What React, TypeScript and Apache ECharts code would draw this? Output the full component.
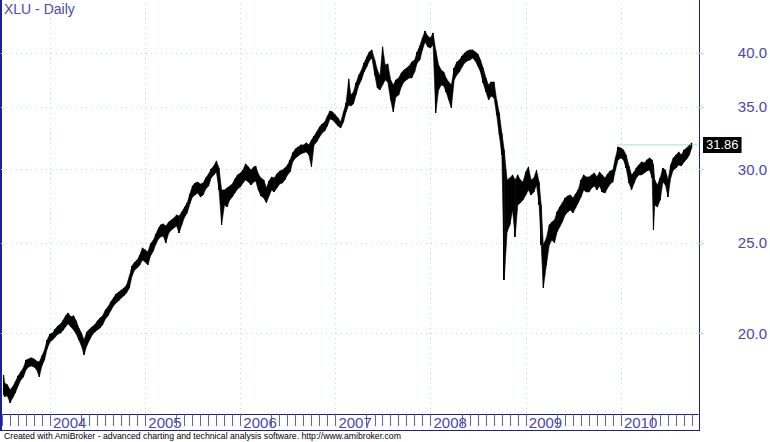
import React, { useEffect, useRef } from "react";
import * as echarts from "echarts";

// Sample dates (roughly every 10 days) of the XLU daily chart
const dates = [
  "2003-07-07", "2003-07-11", "2003-07-21",
  "2003-08-01", "2003-08-11", "2003-08-21",
  "2003-09-01", "2003-09-11", "2003-09-21",
  "2003-10-01", "2003-10-11", "2003-10-21",
  "2003-11-01", "2003-11-11", "2003-11-21",
  "2003-12-01", "2003-12-11", "2003-12-21",
  "2004-01-01", "2004-01-11", "2004-01-21",
  "2004-02-01", "2004-02-11", "2004-02-21",
  "2004-03-01", "2004-03-11", "2004-03-21",
  "2004-04-01", "2004-04-11", "2004-04-21",
  "2004-05-01", "2004-05-11", "2004-05-21",
  "2004-06-01", "2004-06-11", "2004-06-21",
  "2004-07-01", "2004-07-11", "2004-07-21",
  "2004-08-01", "2004-08-11", "2004-08-21",
  "2004-09-01", "2004-09-11", "2004-09-21",
  "2004-10-01", "2004-10-11", "2004-10-21",
  "2004-11-01", "2004-11-11", "2004-11-21",
  "2004-12-01", "2004-12-11", "2004-12-21",
  "2005-01-01", "2005-01-11", "2005-01-21",
  "2005-02-01", "2005-02-11", "2005-02-21",
  "2005-03-01", "2005-03-11", "2005-03-21",
  "2005-04-01", "2005-04-11", "2005-04-21",
  "2005-05-01", "2005-05-11", "2005-05-21",
  "2005-06-01", "2005-06-11", "2005-06-21",
  "2005-07-01", "2005-07-11", "2005-07-21",
  "2005-08-01", "2005-08-11", "2005-08-21",
  "2005-09-01", "2005-09-11", "2005-09-21",
  "2005-10-01", "2005-10-11", "2005-10-21",
  "2005-11-01", "2005-11-11", "2005-11-21",
  "2005-12-01", "2005-12-11", "2005-12-21",
  "2006-01-01", "2006-01-11", "2006-01-21",
  "2006-02-01", "2006-02-11", "2006-02-21",
  "2006-03-01", "2006-03-11", "2006-03-21",
  "2006-04-01", "2006-04-11", "2006-04-21",
  "2006-05-01", "2006-05-11", "2006-05-21",
  "2006-06-01", "2006-06-11", "2006-06-21",
  "2006-07-01", "2006-07-11", "2006-07-21",
  "2006-08-01", "2006-08-11", "2006-08-21",
  "2006-09-01", "2006-09-11", "2006-09-21",
  "2006-10-01", "2006-10-11", "2006-10-21",
  "2006-11-01", "2006-11-11", "2006-11-21",
  "2006-12-01", "2006-12-11", "2006-12-21",
  "2007-01-01", "2007-01-11", "2007-01-21",
  "2007-02-01", "2007-02-11", "2007-02-21",
  "2007-03-01", "2007-03-11", "2007-03-21",
  "2007-04-01", "2007-04-11", "2007-04-21",
  "2007-05-01", "2007-05-11", "2007-05-21",
  "2007-06-01", "2007-06-11", "2007-06-21",
  "2007-07-01", "2007-07-11", "2007-07-21",
  "2007-08-01", "2007-08-11", "2007-08-21",
  "2007-09-01", "2007-09-11", "2007-09-21",
  "2007-10-01", "2007-10-11", "2007-10-21",
  "2007-11-01", "2007-11-11", "2007-11-21",
  "2007-12-01", "2007-12-11", "2007-12-21",
  "2008-01-01", "2008-01-11", "2008-01-21",
  "2008-02-01", "2008-02-11", "2008-02-21",
  "2008-03-01", "2008-03-11", "2008-03-21",
  "2008-04-01", "2008-04-11", "2008-04-21",
  "2008-05-01", "2008-05-11", "2008-05-21",
  "2008-06-01", "2008-06-11", "2008-06-21",
  "2008-07-01", "2008-07-11", "2008-07-21",
  "2008-08-01", "2008-08-11", "2008-08-21",
  "2008-09-01", "2008-09-11", "2008-09-21",
  "2008-10-01", "2008-10-10", "2008-10-21",
  "2008-11-01", "2008-11-11", "2008-11-21",
  "2008-12-01", "2008-12-11", "2008-12-21",
  "2009-01-01", "2009-01-11", "2009-01-21",
  "2009-02-01", "2009-02-11", "2009-02-21",
  "2009-03-01", "2009-03-09", "2009-03-21",
  "2009-04-01", "2009-04-11", "2009-04-21",
  "2009-05-01", "2009-05-11", "2009-05-21",
  "2009-06-01", "2009-06-11", "2009-06-21",
  "2009-07-01", "2009-07-11", "2009-07-21",
  "2009-08-01", "2009-08-11", "2009-08-21",
  "2009-09-01", "2009-09-11", "2009-09-21",
  "2009-10-01", "2009-10-11", "2009-10-21",
  "2009-11-01", "2009-11-11", "2009-11-21",
  "2009-12-01", "2009-12-11", "2009-12-21",
  "2010-01-01", "2010-01-11", "2010-01-21",
  "2010-02-01", "2010-02-11", "2010-02-21",
  "2010-03-01", "2010-03-11", "2010-03-21",
  "2010-04-01", "2010-04-11", "2010-04-21",
  "2010-05-01", "2010-05-06", "2010-05-11", "2010-05-21",
  "2010-06-01", "2010-06-11", "2010-06-21",
  "2010-07-01", "2010-07-11", "2010-07-21",
  "2010-08-01", "2010-08-11", "2010-08-21",
  "2010-09-01", "2010-09-11", "2010-09-21",
  "2010-10-01",
];

const highs = [
  18.03, 17.68, 17.6,
  17.38, 17.51, 17.73,
  17.99, 18.17, 18.35,
  18.71, 18.76, 18.81,
  18.76, 18.66, 18.62,
  18.9, 19.18, 19.66,
  19.95, 20.0, 20.2,
  20.36, 20.46, 20.66,
  20.87, 21.02, 20.82,
  20.87, 20.61, 20.25,
  20.0, 19.66, 20.05,
  20.2, 20.31, 20.41,
  20.61, 20.76, 20.87,
  21.18, 21.34, 21.6,
  21.82, 22.03, 22.14,
  22.25, 22.36, 22.53,
  23.03, 23.61, 23.84,
  23.96, 24.26, 24.69,
  24.57, 24.45, 24.94,
  25.18, 25.56, 25.94,
  26.14, 26.2, 26.07,
  26.33, 26.46, 26.59,
  26.79, 26.72, 26.99,
  27.32, 27.6, 28.22,
  28.78, 28.99, 29.06,
  28.92, 28.99, 29.36,
  29.65, 30.02, 30.24,
  30.62, 30.09, 28.5,
  28.5, 28.64, 28.78,
  28.92, 29.28, 29.58,
  29.72, 29.94, 30.4,
  30.17, 29.94, 30.17,
  30.24, 29.65, 29.36,
  29.21, 28.64, 29.14,
  29.43, 29.36, 29.65,
  29.87, 29.94, 30.09,
  30.32, 30.7, 31.24,
  31.55, 31.7, 31.86,
  31.86, 32.02, 31.86,
  32.25, 32.57, 32.9,
  33.31, 33.55, 33.72,
  34.22, 34.65, 34.57,
  34.31, 34.06, 33.72,
  34.57, 35.35, 37.51,
  36.05, 36.32, 37.14,
  37.88, 38.35, 39.02,
  39.6, 40.1, 40.3,
  39.31, 38.35, 37.79,
  40.61, 38.83, 38.93,
  37.42, 36.95, 37.42,
  37.6, 38.07, 38.35,
  38.54, 38.73, 39.12,
  39.31, 40.1, 40.71,
  41.52, 42.24, 41.72,
  41.52, 42.03, 40.3,
  38.83, 38.35, 38.16,
  37.6, 37.23, 36.95,
  38.54, 39.12, 39.31,
  39.7, 40.0, 40.2,
  40.3, 40.3, 40.1,
  39.9, 39.31, 38.54,
  37.6, 36.95, 37.23,
  37.23, 35.61, 34.48,
  32.81, 31.47, 29.21,
  29.36, 29.58, 29.21,
  29.58, 29.21, 29.06,
  29.8, 30.17, 29.21,
  29.36, 29.94, 29.06,
  27.46, 24.88, 25.31,
  26.14, 26.33, 26.46,
  26.99, 27.32, 27.6,
  27.94, 28.08, 28.15,
  27.94, 28.22, 28.5,
  29.21, 29.58, 29.43,
  29.43, 29.58, 29.72,
  29.43, 29.8, 29.58,
  29.36, 29.65, 29.87,
  29.94, 30.85, 31.7,
  31.62, 31.47, 31.08,
  30.24, 29.58, 29.8,
  30.09, 30.32, 30.55,
  30.47, 30.7, 30.85,
  30.7, 30.32, 29.21, 28.85,
  29.36, 30.09, 29.94,
  29.21, 30.32, 30.85,
  31.08, 31.31, 31.08,
  31.47, 31.62, 31.86,
  32.02,
];

const lows = [
  17.17, 17.09, 17.13,
  16.83, 17.04, 17.25,
  17.56, 17.81, 17.94,
  18.26, 18.39, 18.44,
  18.39, 18.26, 17.94,
  18.44, 18.71, 19.23,
  19.56, 19.66, 19.8,
  19.95, 20.0, 20.15,
  20.31, 20.46, 20.31,
  20.15, 19.95, 19.66,
  19.37, 18.95, 19.37,
  19.66, 19.9, 20.05,
  20.15, 20.25, 20.41,
  20.71, 20.87, 21.13,
  21.39, 21.55, 21.66,
  21.82, 21.93, 22.09,
  22.36, 23.03, 23.38,
  23.5, 23.67, 23.96,
  23.84, 23.67, 24.2,
  24.51, 24.94, 25.25,
  25.37, 25.43, 25.0,
  25.62, 25.81, 25.94,
  26.07, 25.62, 26.14,
  26.66, 26.92, 27.53,
  28.01, 28.15, 28.29,
  28.01, 28.15, 28.57,
  28.78, 29.36, 29.58,
  29.8, 28.5, 26.14,
  27.46, 27.32, 27.8,
  28.01, 28.29, 28.57,
  28.71, 28.99, 29.21,
  29.06, 28.85, 29.06,
  29.14, 28.5, 28.08,
  27.94, 27.6, 28.08,
  28.5, 28.36, 28.64,
  28.92, 28.99, 29.21,
  29.58, 29.8, 30.55,
  30.85, 31.0, 31.16,
  31.24, 31.31, 31.08,
  30.17, 31.86, 32.09,
  32.49, 32.81, 32.98,
  33.39, 33.97, 33.89,
  33.64, 33.39, 33.22,
  33.72, 34.57, 35.17,
  35.09, 35.26, 36.05,
  36.95, 37.42, 38.16,
  38.64, 39.21, 39.5,
  37.88, 36.68, 36.5,
  36.95, 37.42, 37.23,
  35.61, 34.57, 35.87,
  36.05, 36.77, 37.23,
  37.42, 37.6, 37.6,
  38.16, 39.02, 39.31,
  40.3, 41.11, 40.61,
  40.5, 40.81, 34.48,
  36.5, 36.95, 36.86,
  36.32, 35.61, 34.91,
  37.42, 37.88, 38.16,
  38.64, 39.02, 39.21,
  39.31, 39.5, 39.21,
  38.73, 38.16, 37.14,
  36.32, 35.61, 35.96,
  35.78, 34.31, 32.65,
  31.08, 22.81, 25.69,
  26.14, 27.12, 25.37,
  27.46, 27.6, 27.8,
  28.15, 28.5, 28.15,
  28.36, 28.85, 27.46,
  24.88, 22.36, 23.67,
  24.88, 25.18, 25.0,
  25.69, 26.01, 26.33,
  26.79, 26.99, 27.12,
  26.92, 27.26, 27.6,
  28.01, 28.5, 28.36,
  28.36, 28.64, 28.78,
  28.5, 28.78, 28.36,
  28.29, 28.64, 28.92,
  29.06, 29.94, 30.7,
  30.85, 30.7, 30.09,
  28.99, 28.5, 28.99,
  29.36, 29.58, 29.58,
  29.72, 29.87, 29.94,
  29.36, 25.81, 27.46, 27.32,
  27.8, 29.06, 28.85,
  28.01, 29.36, 29.94,
  30.09, 30.32, 30.24,
  30.55, 30.77, 31.08,
  31.7,
];

const lastClose = 31.86;
const levelLineStart = "2009-12-16";
const yTickValues = [20, 25, 30, 35, 40];
const yearLabels = [2004, 2005, 2006, 2007, 2008, 2009, 2010];
const axisMin = "2003-06-27";
const axisMax = "2010-10-24";
const title = "XLU - Daily";
const footer =
  "Created with AmiBroker - advanced charting and technical analysis software. http://www.amibroker.com";

const FONT = '"Liberation Sans", Arial, sans-serif';
const NAVY = "#1e1e98";
const LABEL_BLUE = "#4848b0";
const GRID_CYAN = "#a6e6e6";

const ts = (d: string) => new Date(d + "T00:00:00").getTime();

export default function App() {
  const ref = useRef<HTMLDivElement>(null);

  useEffect(() => {
    if (!ref.current) return;
    const chart = echarts.init(ref.current, null, { renderer: "svg" });

    const yearTs = yearLabels.map((y) => new Date(y, 0, 1).getTime());
    const minTs = ts(axisMin);
    const maxTs = ts(axisMax);
    const monthTicks: number[] = [];
    for (let y = 2003; y <= 2010; y++) {
      for (let m = 0; m < 12; m++) {
        const t = new Date(y, m, 1).getTime();
        if (t < minTs || t > maxTs) continue;
        if (m >= 1 && m <= 3) continue; // hidden behind year label
        monthTicks.push(t);
      }
    }

    const times = dates.map(ts);
    const candles = times.map((t, i) => [t, lows[i], highs[i], lows[i], highs[i]]);
    // band segments between consecutive samples
    const segments = times.slice(0, -1).map((t, i) => [
      t,
      lows[i],
      highs[i],
      times[i + 1],
      lows[i + 1],
      highs[i + 1],
    ]);

    const gridLines: any[] = [
      ...yTickValues.map((v) => ({ yAxis: v })),
      ...yearTs.map((t) => ({ xAxis: t })),
    ];

    chart.setOption({
      animation: false,
      grid: { left: 1, right: 71, top: 0, bottom: 28, containLabel: false },
      xAxis: {
        type: "value",
        min: minTs,
        max: maxTs,
        axisLine: { show: true, lineStyle: { color: NAVY, width: 1 } },
        axisTick: {
          show: true,
          customValues: monthTicks,
          length: 12,
          lineStyle: { color: "#6060c4", width: 1 },
        },
        axisLabel: {
          show: true,
          customValues: yearTs,
          formatter: (v: number) => String(new Date(v).getFullYear()),
          align: "left",
          padding: [0, 0, 0, 3],
          margin: 1,
          color: LABEL_BLUE,
          fontSize: 15,
          fontFamily: FONT,
        },
        splitLine: { show: false },
      },
      yAxis: {
        type: "log",
        logBase: 10,
        min: 16.37,
        max: 45.6,
        position: "right",
        axisLine: { show: false },
        axisTick: {
          show: true,
          customValues: yTickValues,
          length: 6,
          lineStyle: { color: GRID_CYAN },
        },
        axisLabel: {
          show: true,
          customValues: yTickValues,
          formatter: (v: number) => Number(v).toFixed(1),
          align: "right",
          margin: 69,
          color: LABEL_BLUE,
          fontSize: 15,
          fontFamily: FONT,
        },
        splitLine: { show: false },
      },
      series: [
        {
          type: "custom",
          name: "band",
          z: 2,
          silent: true,
          encode: { x: [0, 3], y: [1, 2, 4, 5] },
          data: segments,
          renderItem: (params: any, api: any) => {
            const t0 = api.value(0);
            const t1 = api.value(3);
            const a = api.coord([t0, api.value(2)]);
            const b = api.coord([t1, api.value(5)]);
            const c = api.coord([t1, api.value(4)]);
            const d = api.coord([t0, api.value(1)]);
            return {
              type: "polygon",
              shape: { points: [a, b, c, d] },
              style: { fill: "#000", stroke: "#000", lineWidth: 0.6 },
            };
          },
        },
        {
          type: "candlestick",
          name: "XLU",
          z: 3,
          barWidth: 1,
          encode: { x: 0, y: [1, 2, 3, 4] },
          data: candles,
          itemStyle: {
            color: "#000",
            color0: "#000",
            borderColor: "#000",
            borderColor0: "#000",
            borderWidth: 1,
          },
          markLine: {
            silent: true,
            z: 1,
            symbol: "none",
            label: { show: false },
            lineStyle: { color: GRID_CYAN, type: [1, 4], width: 1 },
            data: gridLines,
          },
        },
        {
          type: "line",
          name: "level",
          data: [
            [ts(levelLineStart), lastClose],
            [maxTs, lastClose],
          ],
          z: 2,
          symbol: "none",
          lineStyle: { color: "#9be8d2", width: 1 },
          endLabel: {
            show: true,
            distance: 5,
            formatter: lastClose.toFixed(2),
            color: "#fff",
            backgroundColor: "#000",
            padding: [2, 3, 1, 3],
            fontSize: 13,
            fontFamily: FONT,
          },
        },
      ],
      graphic: [
        {
          type: "text",
          left: 4,
          top: 2,
          style: { text: title, fill: "#4a4aaa", font: `14px ${FONT}` },
        },
        {
          type: "text",
          left: 4,
          top: 431,
          style: { text: footer, fill: "#000", font: `8.7px ${FONT}` },
        },
        {
          type: "line",
          shape: { x1: 1, y1: 0, x2: 1, y2: 431 },
          style: { stroke: NAVY, lineWidth: 2 },
        },
        {
          type: "line",
          shape: { x1: 699.5, y1: 0, x2: 699.5, y2: 431 },
          style: { stroke: NAVY, lineWidth: 1 },
        },
        {
          type: "line",
          shape: { x1: 0, y1: 430.5, x2: 700, y2: 430.5 },
          style: { stroke: NAVY, lineWidth: 1 },
        },
      ],
    });

    return () => chart.dispose();
  }, []);

  return (
    <div
      ref={ref}
      style={{
        position: "fixed",
        left: 0,
        top: 0,
        width: 770,
        height: 442,
        background: "#fff",
      }}
    />
  );
}
